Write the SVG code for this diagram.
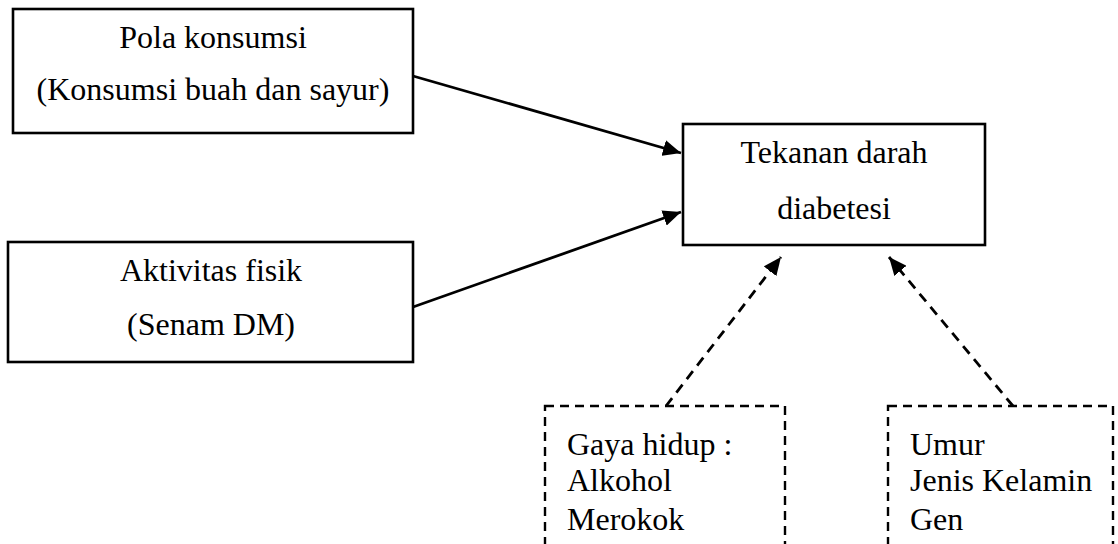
<svg xmlns="http://www.w3.org/2000/svg" width="1118" height="544" viewBox="0 0 1118 544">
<style>
.box{fill:#fff;stroke:#000;stroke-width:2.6}
.dbox{fill:none;stroke:#000;stroke-width:2.4;stroke-dasharray:9 6}
.t{font-family:"Liberation Serif","Times New Roman",serif;font-size:32px;fill:#000}
.c{text-anchor:middle}
.ln{stroke:#000;stroke-width:2.8;fill:none}
.dl{stroke:#000;stroke-width:2.8;fill:none;stroke-dasharray:10 7}
</style>
<defs>
<marker id="ah" markerUnits="userSpaceOnUse" markerWidth="20" markerHeight="16" refX="18" refY="8" orient="auto">
<path d="M0,0 L18,8 L0,16 Z" fill="#000"/>
</marker>
</defs>
<g id="connectors">
<line class="ln" x1="413" y1="76" x2="681" y2="153" marker-end="url(#ah)"/>
<line class="ln" x1="413" y1="307" x2="681" y2="212" marker-end="url(#ah)"/>
<line class="dl" x1="666" y1="406" x2="781" y2="257" marker-end="url(#ah)"/>
<line class="dl" x1="1013" y1="406" x2="889" y2="257" marker-end="url(#ah)"/>
</g>
<g id="pola">
<rect class="box" x="13" y="9" width="400" height="124"/>
<text class="t c" x="213" y="48">Pola konsumsi</text>
<text class="t c" x="213" y="100">(Konsumsi buah dan sayur)</text>
</g>
<g id="aktivitas">
<rect class="box" x="8" y="242" width="405" height="120"/>
<text class="t c" x="211" y="281">Aktivitas fisik</text>
<text class="t c" x="211" y="335">(Senam DM)</text>
</g>
<g id="tekanan">
<rect class="box" x="683" y="124" width="302" height="121"/>
<text class="t c" x="834" y="163">Tekanan darah</text>
<text class="t c" x="834" y="219">diabetesi</text>
</g>
<g id="gaya">
<rect class="dbox" x="545" y="406" width="240" height="160"/>
<text class="t" x="567" y="455">Gaya hidup :</text>
<text class="t" x="567" y="491">Alkohol</text>
<text class="t" x="567" y="530">Merokok</text>
</g>
<g id="umur">
<rect class="dbox" x="888" y="406" width="225" height="160"/>
<text class="t" x="910" y="455">Umur</text>
<text class="t" x="910" y="491">Jenis Kelamin</text>
<text class="t" x="910" y="530">Gen</text>
</g>
</svg>
